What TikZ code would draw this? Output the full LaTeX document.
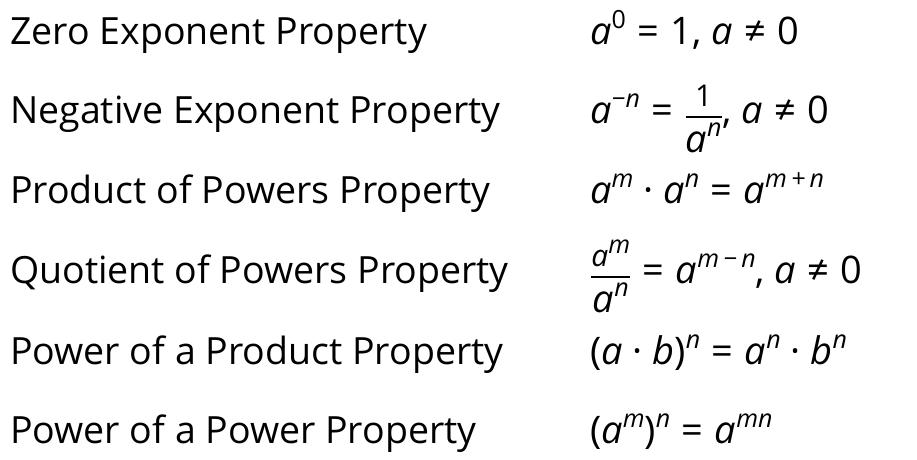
\documentclass[tikz,border=0pt]{standalone}
\usepackage{amsmath}
\usepackage{fontspec}
\setmainfont{Open Sans}
\newcommand{\sps}[1]{\raisebox{0.42em}{\fontsize{25}{25}\selectfont\itshape #1}}
\newcommand{\spu}[1]{\raisebox{0.42em}{\fontsize{25}{25}\selectfont #1}}
\newcommand{\eq}{\hspace{0.3em}=\hspace{0.3em}}
\newcommand{\nq}{\hspace{0.3em}≠\hspace{0.3em}}
\newcommand{\fr}[2]{\ensuremath{\genfrac{}{}{1.6pt}{0}{\text{\fontsize{30}{30}\selectfont #1}}{\text{\fontsize{38}{38}\selectfont #2}}}}
\begin{document}
\begin{tikzpicture}[x=1pt,y=1pt,
  lab/.style={anchor=base west,inner sep=0pt,font=\fontsize{37.5}{40}\selectfont},
  frm/.style={anchor=base west,inner sep=0pt,font=\fontsize{38}{40}\selectfont}]
\useasboundingbox (0,0) rectangle (917,-459);
\node[lab] (l1) at (10,-44) {Zero Exponent Property};
\node[lab] (l2) at (10,-123) {Negative Exponent Property};
\node[lab] (l3) at (10,-203) {Product of Powers Property};
\node[lab] (l4) at (10,-283) {Quotient of Powers Property};
\node[lab] (l5) at (10,-364) {Power of a Product Property};
\node[lab] (l6) at (10,-443) {Power of a Power Property};
\node[frm] (f1) at (590,-44) {\textit{a}\spu{0}\eq 1, \textit{a}\nq 0};
\node[frm] (f2) at (590,-123) {\textit{a}\sps{−n}\eq\fr{1}{\textit{a}\sps{n}}, \textit{a}\nq 0};
\node[frm] (f3) at (590,-203) {\textit{a}\sps{m} · \textit{a}\sps{n}\eq\textit{a}\sps{m\,+\,n}};
\node[frm] (f4) at (590,-283) {\fr{\textit{a}\sps{m}}{\textit{a}\sps{n}}\eq\textit{a}\sps{m\,−\,n}, \textit{a}\nq 0};
\node[frm] (f5) at (590,-364) {(\textit{a} · \textit{b})\sps{n}\eq\textit{a}\sps{n} · \textit{b}\sps{n}};
\node[frm] (f6) at (590,-443) {(\textit{a}\sps{m})\sps{n}\eq\textit{a}\sps{mn}};
\end{tikzpicture}
\end{document}
